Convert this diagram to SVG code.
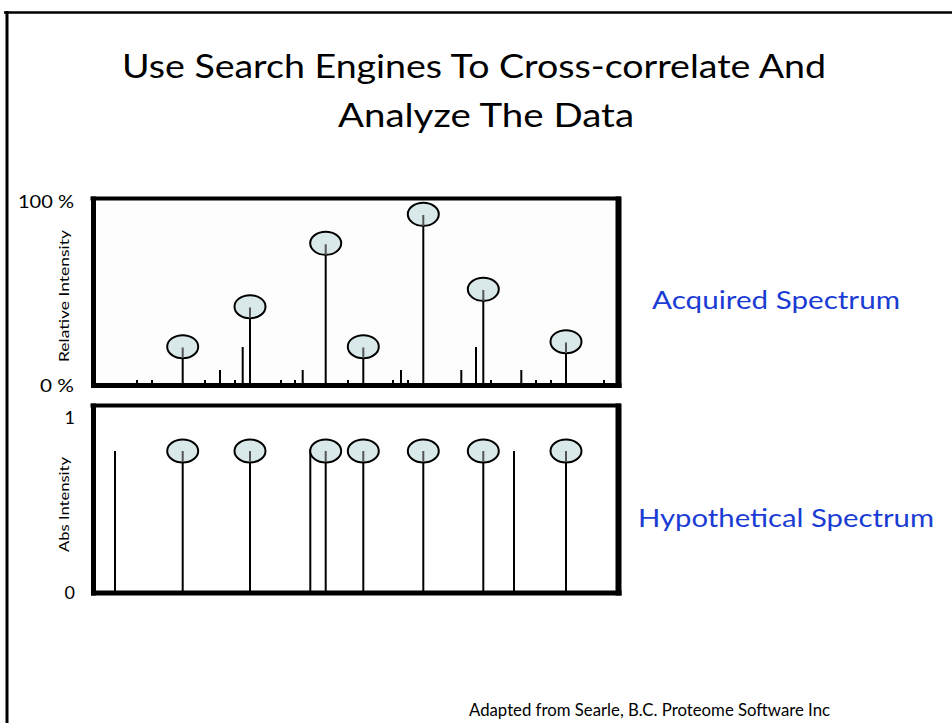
<svg xmlns="http://www.w3.org/2000/svg" width="952" height="723" viewBox="0 0 952 723">
<defs>
<style>
.t{font-family:Lato,"Liberation Sans","Open Sans",sans-serif;fill:#000}
.blue{font-family:Lato,"Liberation Sans","Open Sans",sans-serif;fill:#1a3cd4;font-size:25px}
.pk{stroke:#000;stroke-width:2;fill:none}
.bub{fill:#d9e9e9;stroke:#000;stroke-width:2}
.in{stroke:#555;stroke-width:2}
</style>
</defs>
<rect width="952" height="723" fill="#fff"/>
<g id="slide-frame">
<line x1="4" y1="12.5" x2="952" y2="12.5" stroke="#000" stroke-width="2.5"/>
<line x1="7" y1="11" x2="7" y2="723" stroke="#000" stroke-width="3"/>
</g>
<g id="title">
<text class="t" x="474" y="78" font-size="33" text-anchor="middle" textLength="704" lengthAdjust="spacingAndGlyphs">Use Search Engines To Cross-correlate And</text>
<text class="t" x="486" y="127" font-size="33" text-anchor="middle" textLength="296" lengthAdjust="spacingAndGlyphs">Analyze The Data</text>
</g>
<g id="acquired-plot">
<rect x="93" y="198.5" width="525" height="187" fill="#fdfdfd"/>
<line x1="90.5" y1="198.5" x2="620.5" y2="198.5" stroke="#000" stroke-width="4"/>
<line x1="93.5" y1="196.5" x2="93.5" y2="388" stroke="#000" stroke-width="5"/>
<line x1="618.5" y1="196.5" x2="618.5" y2="388" stroke="#000" stroke-width="6"/>
<line x1="91" y1="385.5" x2="621.5" y2="385.5" stroke="#000" stroke-width="5"/>
<g class="pk">
<path d="M137,380V383M152,380V383M205,380V383M235,380V383M281,380V383M295,380V383M348,380V383M393,380V383M408,380V383M491,380V383M536,380V383M551,380V383M604,380V383"/>
<path d="M220,370V383M302.7,370V383M401,370V383M461.3,370V383M521.3,370V383"/>
<path d="M242.7,347V383M476,347V383"/>
<path d="M182.7,358V383M250,318V383M325.7,255V383M363.3,358V383M423.3,226V383M483.3,301V383M566,353V383"/>
</g>
<g id="acq-bubbles">
<ellipse class="bub" cx="182.7" cy="346.7" rx="15.5" ry="11.5"/>
<ellipse class="bub" cx="250" cy="306.7" rx="15.5" ry="11.5"/>
<ellipse class="bub" cx="325.7" cy="243.3" rx="15.5" ry="11.5"/>
<ellipse class="bub" cx="363.3" cy="346.7" rx="15.5" ry="11.5"/>
<ellipse class="bub" cx="423.3" cy="214.3" rx="15.5" ry="11.5"/>
<ellipse class="bub" cx="483.3" cy="289.3" rx="15.5" ry="11.5"/>
<ellipse class="bub" cx="566" cy="341.7" rx="15.5" ry="11.5"/>
</g>
<path class="in" d="M182.7,347.5V358M250,307.5V318M325.7,244.3V255M363.3,347.5V358M423.3,215V226M483.3,290V301M566,342.5V353"/>
<text class="t" x="74" y="208" font-size="18" text-anchor="end" textLength="56" lengthAdjust="spacingAndGlyphs">100 %</text>
<text class="t" x="74" y="392" font-size="18" text-anchor="end" textLength="34" lengthAdjust="spacingAndGlyphs">0 %</text>
<text class="t" font-size="14" text-anchor="middle" transform="translate(69,296) rotate(-90)" textLength="132" lengthAdjust="spacingAndGlyphs">Relative Intensity</text>
</g>
<g id="hypothetical-plot">
<rect x="93" y="405" width="525" height="188" fill="#fff"/>
<line x1="90.5" y1="405.5" x2="620.5" y2="405.5" stroke="#000" stroke-width="4"/>
<line x1="93.5" y1="403.5" x2="93.5" y2="595.5" stroke="#000" stroke-width="5"/>
<line x1="618.5" y1="403.5" x2="618.5" y2="595.5" stroke="#000" stroke-width="6"/>
<line x1="91" y1="593" x2="621.5" y2="593" stroke="#000" stroke-width="5"/>
<g class="pk">
<path d="M115,451V591M310.3,449V591M514,451V591"/>
<path d="M182.7,462V591M250,462V591M325.7,462V591M363.3,462V591M423.3,462V591M483.3,462V591M566,462V591"/>
</g>
<g id="hyp-bubbles">
<ellipse class="bub" cx="182.7" cy="451" rx="15.5" ry="11.5"/>
<ellipse class="bub" cx="250" cy="451" rx="15.5" ry="11.5"/>
<ellipse class="bub" cx="325.7" cy="451" rx="15.5" ry="11.5"/>
<ellipse class="bub" cx="363.3" cy="451" rx="15.5" ry="11.5"/>
<ellipse class="bub" cx="423.3" cy="451" rx="15.5" ry="11.5"/>
<ellipse class="bub" cx="483.3" cy="451" rx="15.5" ry="11.5"/>
<ellipse class="bub" cx="566" cy="451" rx="15.5" ry="11.5"/>
</g>
<path class="in" d="M182.7,451V462M250,451V462M325.7,451V462M363.3,451V462M423.3,451V462M483.3,451V462M566,451V462"/>
<text class="t" x="75" y="424" font-size="18" text-anchor="end">1</text>
<text class="t" x="75" y="599" font-size="18" text-anchor="end">0</text>
<text class="t" font-size="14" text-anchor="middle" transform="translate(69,504.5) rotate(-90)" textLength="95" lengthAdjust="spacingAndGlyphs">Abs Intensity</text>
</g>
<g id="labels">
<text class="blue" x="776" y="309" text-anchor="middle" textLength="248" lengthAdjust="spacingAndGlyphs">Acquired Spectrum</text>
<text class="blue" x="786" y="527" text-anchor="middle" textLength="296" lengthAdjust="spacingAndGlyphs">Hypothetical Spectrum</text>
<text class="t" x="649.5" y="716" font-size="17" text-anchor="middle" textLength="361" lengthAdjust="spacingAndGlyphs">Adapted from Searle, B.C. Proteome Software Inc</text>
</g>
</svg>
